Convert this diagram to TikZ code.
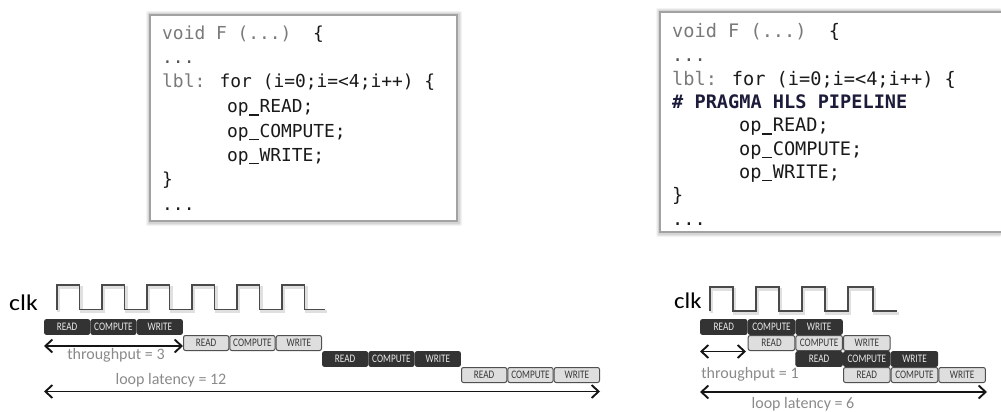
\documentclass[tikz,border=0pt]{standalone}
\usepackage{fontspec}
\usepackage{graphicx}
\usetikzlibrary{arrows.meta}
\setmainfont{Carlito}
\newfontfamily\codefont{DejaVu Sans Mono}

\definecolor{codegray}{HTML}{7A7A7A}
\definecolor{codedots}{HTML}{555555}
\definecolor{codeink}{HTML}{1A1A1A}
\definecolor{pragmaink}{HTML}{1C1C3A}
\definecolor{boxedge}{HTML}{A2A2A2}
\definecolor{stdark}{HTML}{333333}
\definecolor{stdarktext}{HTML}{E8E8E8}
\definecolor{stlight}{HTML}{DEDEDE}
\definecolor{stedge}{HTML}{505050}
\definecolor{sttext}{HTML}{3A3A3A}
\definecolor{clkink}{HTML}{4A4A4A}
\definecolor{labelgray}{HTML}{8A8A8A}
\definecolor{arrowink}{HTML}{151515}

% condensed caption for the stage boxes
\newcommand\cnd[1]{\scalebox{0.8}[1]{#1}}
% underscore, one monospace cell wide
\newcommand\us{\makebox[0.602em][c]{\rule[-0.17em]{0.56em}{0.08em}}}

\begin{document}
\begin{tikzpicture}[x=1pt,y=-1pt,
  codebox/.style={draw=boxedge, line width=2pt, fill=white, anchor=north west,
    inner sep=0pt, outer sep=0pt},
  codeline/.style={anchor=base west, inner sep=0pt, text=codeink},
  stage/.style={anchor=north west, rounded corners=2pt, inner sep=0pt, outer sep=0pt,
    minimum height=15pt, font=\fontsize{11.5}{11.5}\selectfont},
  darkst/.style={stage, fill=stdark, draw=stdark, line width=0.8pt, text=stdarktext},
  lightst/.style={stage, fill=stlight, draw=stedge, line width=1pt, text=sttext},
  lw/.style={minimum width=45.3pt},
  rw/.style={minimum width=46.6pt},
  clklabel/.style={anchor=base west, inner sep=0pt, font=\fontsize{22.5}{22.5}\selectfont, text=black},
  graylabel/.style={anchor=base, inner sep=0pt, font=\fontsize{16}{16}\selectfont, text=labelgray},
  clkwave/.style={draw=clkink, line width=1.6pt, line join=miter},
  clkshade/.style={draw=black, opacity=0.12, line width=3pt},
  spanarrow/.style={draw=arrowink, line width=1.9pt,
    {Straight Barb[length=7pt,width=13pt]}-{Straight Barb[length=7pt,width=13pt]}},
]
\useasboundingbox (0,0) rectangle (1001,412);

% ---------- code listings ----------
% soft shadows round the two listing frames
\foreach \d/\o in {4/0.04,3/0.06,2/0.08} {
  \fill[black, opacity=\o, rounded corners=1pt] (150-\d,15-\d) rectangle (457+\d+1,221+\d+1);
  \fill[black, opacity=\o, rounded corners=1pt] (660-\d,12-\d) rectangle (1001,232+\d+1);
}
\node[codebox, minimum width=307pt, minimum height=206pt] (codeL) at (150,15) {};
\node[codebox, minimum width=342pt, minimum height=220pt] (codeR) at (660,12) {};

\begin{scope}[every node/.append style={font=\codefont\fontsize{17.9}{17.9}\selectfont}]
  \node[codeline] (cL1) at (162,39.5) {\textcolor{codegray}{void F (...)}\ \ \{};
  \node[codeline, text=codedots] (cL2) at (162,63.5) {...};
  \node[codeline] (cL3) at (162,88) {\textcolor{codegray}{lbl:} for (i=0;i=<4;i++) \{};
  \node[codeline] (cL4) at (227,112.5) {op\us READ;};
  \node[codeline] (cL5) at (227,137) {op\us COMPUTE;};
  \node[codeline] (cL6) at (227,161) {op\us WRITE;};
  \node[codeline] (cL7) at (162,185.5) {\}};
  \node[codeline] (cL8) at (162,210) {...};
\end{scope}

\begin{scope}[every node/.append style={font=\codefont\fontsize{18.6}{18.6}\selectfont}]
  \node[codeline] (cR1) at (672,38) {\textcolor{codegray}{void F (...)}\ \ \{};
  \node[codeline, text=codedots] (cR2) at (672,61.5) {...};
  \node[codeline] (cR3) at (672,85) {\textcolor{codegray}{lbl:} for (i=0;i=<4;i++) \{};
  \node[codeline, text=pragmaink, font=\codefont\bfseries\fontsize{18.6}{18.6}\selectfont] (cR4) at (672,108) {\# PRAGMA HLS PIPELINE};
  \node[codeline] (cR5) at (739,131.5) {op\us READ;};
  \node[codeline] (cR6) at (739,155) {op\us COMPUTE;};
  \node[codeline] (cR7) at (739,178) {op\us WRITE;};
  \node[codeline] (cR8) at (672,201.5) {\}};
  \node[codeline] (cR9) at (672,225) {...};
\end{scope}

% ---------- sequential loop ----------
\node[clklabel] (clkL) at (9,310) {\scalebox{1.15}[1]{clk}};
\draw[clkshade] (58.5,311.5) \foreach \i in {1,...,5} { -- ++(0,-24.5) -- ++(22.5,0) -- ++(0,24.5) -- ++(22.5,0) }
  -- ++(0,-24.5) -- ++(22.5,0) -- ++(0,24.5) -- ++(20.5,0);
\draw[clkwave] (57,309.5) \foreach \i in {1,...,5} { -- ++(0,-24.5) -- ++(22.5,0) -- ++(0,24.5) -- ++(22.5,0) }
  -- ++(0,-24.5) -- ++(22.5,0) -- ++(0,24.5) -- ++(20.5,0);

\node[darkst, lw] (s1r) at (44.5,319.5)  {\cnd{READ}};
\node[darkst, lw] (s1c) at (90.8,319.5)  {\cnd{COMPUTE}};
\node[darkst, lw] (s1w) at (137.2,319.5) {\cnd{WRITE}};
\node[lightst, lw] (s2r) at (183.5,335.5) {\cnd{READ}};
\node[lightst, lw] (s2c) at (229.8,335.5) {\cnd{COMPUTE}};
\node[lightst, lw] (s2w) at (276.2,335.5) {\cnd{WRITE}};
\node[darkst, lw] (s3r) at (322.5,351.5) {\cnd{READ}};
\node[darkst, lw] (s3c) at (368.8,351.5) {\cnd{COMPUTE}};
\node[darkst, lw] (s3w) at (415.2,351.5) {\cnd{WRITE}};
\node[lightst, lw] (s4r) at (461.5,367.5) {\cnd{READ}};
\node[lightst, lw] (s4c) at (507.8,367.5) {\cnd{COMPUTE}};
\node[lightst, lw] (s4w) at (554.2,367.5) {\cnd{WRITE}};

\coordinate (tpLa) at (44,346);
\coordinate (tpLb) at (183,346);
\draw[spanarrow] (tpLa) -- (tpLb);
\node[graylabel] (tpL) at (116,359) {throughput = 3};

\coordinate (latLa) at (44,391.5);
\coordinate (latLb) at (600,391.5);
\draw[spanarrow] (latLa) -- (latLb);
\node[graylabel] (latL) at (171,384) {loop latency = 12};

% ---------- pipelined loop ----------
\node[clklabel] (clkR) at (674,308) {\scalebox{1.1}[1]{clk}};
\draw[clkshade] (711.5,313) \foreach \i in {1,...,3} { -- ++(0,-24) -- ++(23,0) -- ++(0,24) -- ++(23,0) }
  -- ++(0,-24) -- ++(25,0) -- ++(0,24) -- ++(24,0);
\draw[clkwave] (710,311) \foreach \i in {1,...,3} { -- ++(0,-24) -- ++(23,0) -- ++(0,24) -- ++(23,0) }
  -- ++(0,-24) -- ++(25,0) -- ++(0,24) -- ++(24,0);

\node[darkst, rw] (p1r) at (700.5,319.5) {\cnd{READ}};
\node[darkst, rw] (p1c) at (748.2,319.5) {\cnd{COMPUTE}};
\node[darkst, rw] (p1w) at (795.8,319.5) {\cnd{WRITE}};
\node[lightst, rw] (p2r) at (748.2,335.5) {\cnd{READ}};
\node[lightst, rw] (p2c) at (795.8,335.5) {\cnd{COMPUTE}};
\node[lightst, rw] (p2w) at (843.5,335.5) {\cnd{WRITE}};
\node[darkst, rw] (p3r) at (795.8,351.5) {\cnd{READ}};
\node[darkst, rw] (p3c) at (843.5,351.5) {\cnd{COMPUTE}};
\node[darkst, rw] (p3w) at (891.2,351.5) {\cnd{WRITE}};
\node[lightst, rw] (p4r) at (843.5,367.5) {\cnd{READ}};
\node[lightst, rw] (p4c) at (891.2,367.5) {\cnd{COMPUTE}};
\node[lightst, rw] (p4w) at (938.8,367.5) {\cnd{WRITE}};

\coordinate (tpRa) at (700,351.5);
\coordinate (tpRb) at (746,351.5);
\draw[spanarrow] (tpRa) -- (tpRb);
\node[graylabel] (tpR) at (750,378) {throughput = 1};

\coordinate (latRa) at (700,392);
\coordinate (latRb) at (987,392);
\draw[spanarrow] (latRa) -- (latRb);
\node[graylabel] (latR) at (803,408) {loop latency = 6};
\end{tikzpicture}
\end{document}
